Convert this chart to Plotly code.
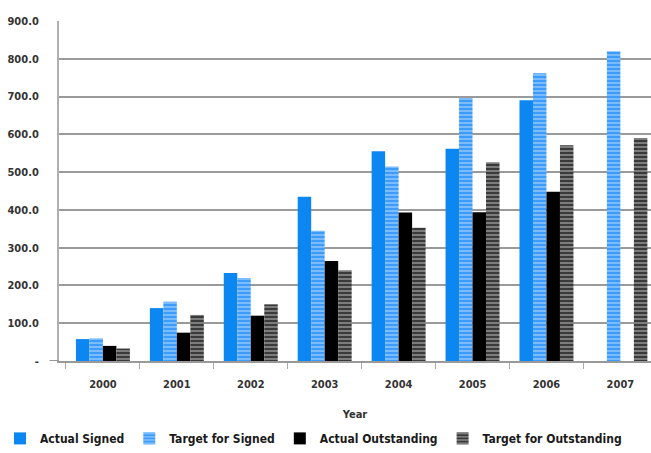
import plotly.graph_objects as go

years = ["2000", "2001", "2002", "2003", "2004", "2005", "2006", "2007"]
actual_signed = [58, 140, 233, 435, 555, 562, 690, None]
target_signed = [60, 157, 220, 345, 515, 696, 762, 820]
actual_outstanding = [40, 75, 120, 265, 393, 394, 448, None]
target_outstanding = [33, 122, 150, 240, 353, 526, 571, 590]

ytick_vals = [0, 100, 200, 300, 400, 500, 600, 700, 800, 900]
ytick_text = ["-", "100.0", "200.0", "300.0", "400.0", "500.0", "600.0", "700.0", "800.0", "900.0"]

FONT = "DejaVu Sans Condensed, Liberation Sans Narrow, sans-serif"

fig = go.Figure()
fig.add_trace(go.Bar(x=years, y=actual_signed, name="Actual Signed",
                     marker=dict(color="#0c86f0", line=dict(width=0))))
fig.add_trace(go.Bar(x=years, y=target_signed, name="Target for Signed",
                     marker=dict(color="#55aaff", line=dict(width=0),
                                 pattern=dict(shape="-", fgcolor="#d6ebff", bgcolor="#3d9cfb",
                                              size=4, solidity=0.4))))
fig.add_trace(go.Bar(x=years, y=actual_outstanding, name="Actual Outstanding",
                     marker=dict(color="#000000", line=dict(width=0))))
fig.add_trace(go.Bar(x=years, y=target_outstanding, name="Target for Outstanding",
                     marker=dict(color="#555555", line=dict(width=0),
                                 pattern=dict(shape="-", fgcolor="#e0e0e0", bgcolor="#3a3a3a",
                                              size=4, solidity=0.4))))

fig.update_layout(
    width=651, height=453,
    margin=dict(l=56, r=0, t=21, b=92),
    paper_bgcolor="white", plot_bgcolor="white",
    barmode="group", bargap=0.27, bargroupgap=0,
    font=dict(family=FONT, size=11, color="#333333"),
    showlegend=True,
    legend=dict(orientation="h", x=-0.1, xanchor="left", y=-0.185, yanchor="top",
                font=dict(family=FONT, size=12, color="#1a1a1a", weight="bold"),
                itemwidth=30, traceorder="normal", tracegroupgap=0,
                itemsizing="constant"),
    xaxis=dict(title=dict(text="Year", font=dict(family=FONT, size=11, color="#333333", weight="bold"), standoff=20),
               range=[-0.594, 7.414], automargin=False,
               showline=True, linecolor="#999999", linewidth=2,
               ticks="outside", tickson="boundaries", ticklen=6, tickcolor="#aaaaaa",
               ticklabelstandoff=12,
               tickfont=dict(family=FONT, size=11, color="#333333", weight="bold")),
    yaxis=dict(range=[0, 900], tickvals=ytick_vals, ticktext=ytick_text, automargin=False,
               showgrid=True, gridcolor="#9a9a9a", gridwidth=1.5,
               showline=True, linecolor="#b0b0b0", linewidth=2,
               zeroline=False, ticks="", ticklabelstandoff=16,
               tickfont=dict(family=FONT, size=11, color="#333333", weight="bold")),
    shapes=[dict(type="line", xref="paper", yref="y", x0=-0.016, x1=0, y0=0, y1=0,
                 line=dict(color="#999999", width=2))],
)

fig.write_html("out.html")
